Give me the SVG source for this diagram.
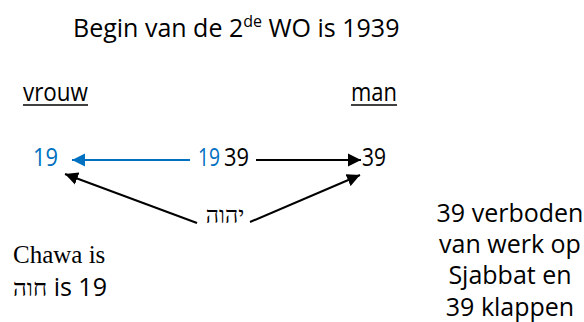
<svg xmlns="http://www.w3.org/2000/svg" width="584" height="322" viewBox="0 0 584 322">
<style>
.s{font-family:"Open Sans","Liberation Sans",sans-serif;font-size:25px;fill:#000}
.r{font-family:"Liberation Serif","DejaVu Serif",serif;fill:#000}
.b{fill:#0070C0}
.k{stroke:#000;stroke-width:2;fill:none}
.bl{stroke:#0070C0;stroke-width:2;fill:none}
</style>
<defs>
<marker id="ak" viewBox="0 0 10 10" refX="10" refY="5" markerWidth="6.5" markerHeight="7" markerUnits="strokeWidth" orient="auto"><path d="M0,0 L10,5 L0,10 z" fill="#000"/></marker>
<marker id="ab" viewBox="0 0 10 10" refX="10" refY="5" markerWidth="6.5" markerHeight="7" markerUnits="strokeWidth" orient="auto"><path d="M0,0 L10,5 L0,10 z" fill="#0070C0"/></marker>
</defs>
<g id="title"><text class="s" x="73" y="37">Begin van de 2<tspan font-size="16" dy="-10">de</tspan><tspan dy="10"> WO is 1939</tspan></text></g>
<g id="vrouw"><text class="s" x="23" y="101" textLength="65" lengthAdjust="spacingAndGlyphs">vrouw</text><line x1="23" y1="105" x2="88" y2="105" stroke="#000" stroke-width="1.6"/></g>
<g id="man"><text class="s" x="351" y="101" textLength="46" lengthAdjust="spacingAndGlyphs">man</text><line x1="351" y1="105" x2="397" y2="105" stroke="#000" stroke-width="1.6"/></g>
<g id="n19"><text class="s b" x="33" y="166" textLength="25" lengthAdjust="spacingAndGlyphs">19</text></g>
<g id="n1939"><text class="s b" x="198" y="166" textLength="22" lengthAdjust="spacingAndGlyphs">19</text><text class="s" x="224" y="166" textLength="25" lengthAdjust="spacingAndGlyphs">39</text></g>
<g id="n39"><text class="s" x="362" y="166" textLength="24" lengthAdjust="spacingAndGlyphs">39</text></g>
<g id="yhwh"><text class="r" x="225" y="223" font-size="23" text-anchor="middle">יהוה</text></g>
<g id="chawa"><text class="r" x="13" y="263" font-size="25">Chawa is</text><text x="13" y="296"><tspan class="r" font-size="24">חוה</tspan><tspan class="s"> is 19</tspan></text></g>
<g id="note"><text class="s" text-anchor="middle"><tspan x="510" y="222">39 verboden</tspan><tspan x="510" y="253">van werk op</tspan><tspan x="510" y="284">Sjabbat en</tspan><tspan x="510" y="316">39 klappen</tspan></text></g>
<g id="connectors">
<line class="bl" x1="190" y1="160" x2="72" y2="160" marker-end="url(#ab)"/>
<line class="k" x1="256" y1="160" x2="361" y2="160" marker-end="url(#ak)"/>
<line class="k" x1="197" y1="223" x2="65" y2="174" marker-end="url(#ak)"/>
<line class="k" x1="250" y1="222" x2="360" y2="175" marker-end="url(#ak)"/>
</g>
</svg>
